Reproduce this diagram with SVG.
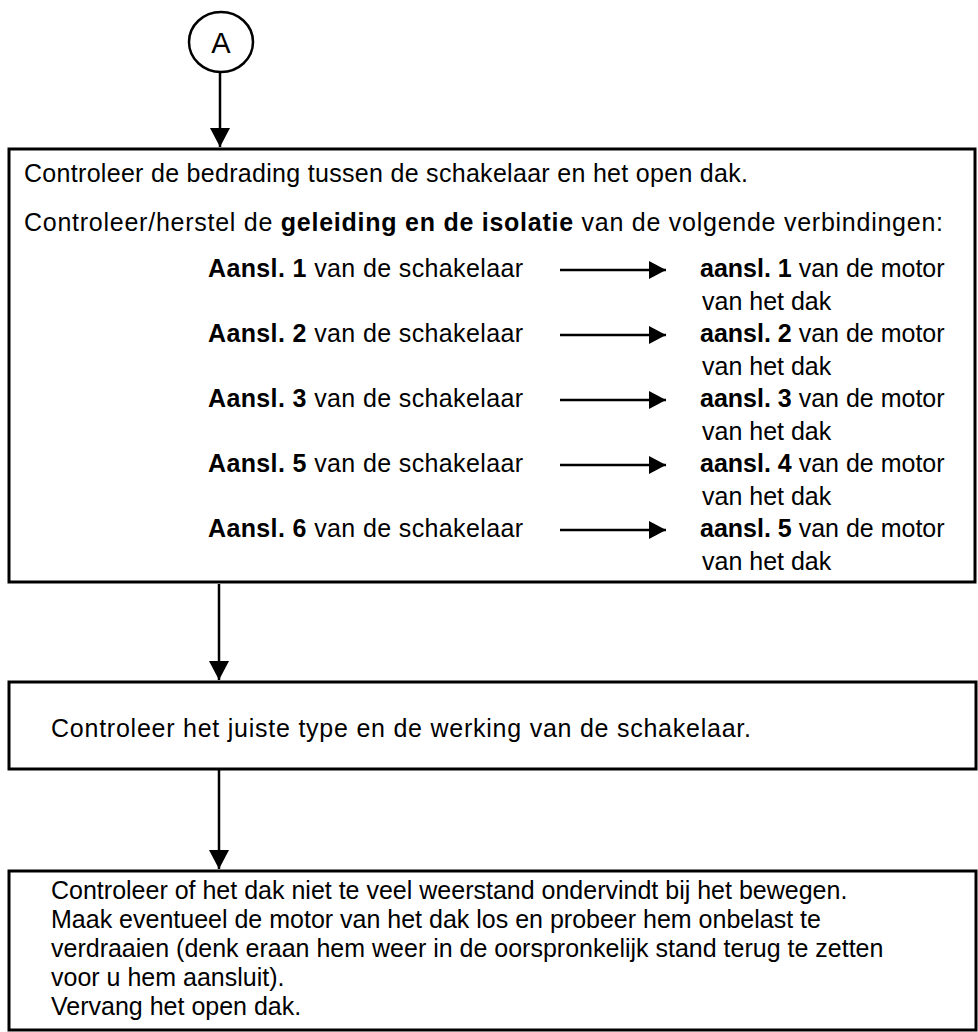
<svg xmlns="http://www.w3.org/2000/svg" width="978" height="1032" viewBox="0 0 978 1032">
<style>
text{font-family:"Liberation Sans",Arial,sans-serif;font-size:25px;fill:#000}
.b{font-weight:bold}
.box{fill:#fff;stroke:#000;stroke-width:3}
.ln{stroke:#000;stroke-width:2.5;fill:none}
</style>
<defs>
<marker id="ah" markerWidth="20" markerHeight="20" viewBox="0 0 20 20" refX="19" refY="10" orient="auto" markerUnits="userSpaceOnUse">
<path d="M0,0 L19,10 L0,20 Z" fill="#000"/>
</marker>
<marker id="ah2" markerWidth="18" markerHeight="18" viewBox="0 0 18 18" refX="17" refY="9" orient="auto" markerUnits="userSpaceOnUse">
<path d="M0,0 L17,9 L0,18 Z" fill="#000"/>
</marker>
</defs>
<rect width="978" height="1032" fill="#fff"/>
<g id="connectors">
<line class="ln" x1="220" y1="72" x2="220" y2="147" marker-end="url(#ah)"/>
<line class="ln" x1="219" y1="584" x2="219" y2="680" marker-end="url(#ah)"/>
<line class="ln" x1="219" y1="770" x2="219" y2="869" marker-end="url(#ah)"/>
</g>
<g id="nodeA">
<ellipse cx="221" cy="42" rx="32" ry="30" fill="#fff" stroke="#000" stroke-width="2.5"/>
<text x="221" y="53" text-anchor="middle" style="font-size:29px">A</text>
</g>
<g id="box1">
<rect class="box" x="9" y="149" width="966" height="433"/>
<text x="24" y="182" textLength="724" lengthAdjust="spacing">Controleer de bedrading tussen de schakelaar en het open dak.</text>
<text x="24" y="231" textLength="919" lengthAdjust="spacing">Controleer/herstel de <tspan class="b">geleiding en de isolatie</tspan> van de volgende verbindingen:</text>
<g id="rows">
<text x="208" y="277" textLength="315" lengthAdjust="spacing"><tspan class="b">Aansl. 1</tspan> van de schakelaar</text>
<text x="700" y="277"><tspan class="b">aansl. 1</tspan> van de motor</text>
<text x="702" y="310">van het dak</text>
<text x="208" y="342" textLength="315" lengthAdjust="spacing"><tspan class="b">Aansl. 2</tspan> van de schakelaar</text>
<text x="700" y="342"><tspan class="b">aansl. 2</tspan> van de motor</text>
<text x="702" y="375">van het dak</text>
<text x="208" y="407" textLength="315" lengthAdjust="spacing"><tspan class="b">Aansl. 3</tspan> van de schakelaar</text>
<text x="700" y="407"><tspan class="b">aansl. 3</tspan> van de motor</text>
<text x="702" y="440">van het dak</text>
<text x="208" y="472" textLength="315" lengthAdjust="spacing"><tspan class="b">Aansl. 5</tspan> van de schakelaar</text>
<text x="700" y="472"><tspan class="b">aansl. 4</tspan> van de motor</text>
<text x="702" y="505">van het dak</text>
<text x="208" y="537" textLength="315" lengthAdjust="spacing"><tspan class="b">Aansl. 6</tspan> van de schakelaar</text>
<text x="700" y="537"><tspan class="b">aansl. 5</tspan> van de motor</text>
<text x="702" y="570">van het dak</text>
</g>
<g id="rowarrows">
<line class="ln" x1="560" y1="270" x2="666" y2="270" marker-end="url(#ah2)"/>
<line class="ln" x1="560" y1="335" x2="666" y2="335" marker-end="url(#ah2)"/>
<line class="ln" x1="560" y1="400" x2="666" y2="400" marker-end="url(#ah2)"/>
<line class="ln" x1="560" y1="465" x2="666" y2="465" marker-end="url(#ah2)"/>
<line class="ln" x1="560" y1="530" x2="666" y2="530" marker-end="url(#ah2)"/>
</g>
</g>
<g id="box2">
<rect class="box" x="9" y="682" width="967" height="87"/>
<text x="51" y="737" textLength="700" lengthAdjust="spacing">Controleer het juiste type en de werking van de schakelaar.</text>
</g>
<g id="box3">
<rect class="box" x="9" y="871" width="967" height="159"/>
<text x="51" y="899">Controleer of het dak niet te veel weerstand ondervindt bij het bewegen.</text>
<text x="51" y="928">Maak eventueel de motor van het dak los en probeer hem onbelast te</text>
<text x="51" y="957">verdraaien (denk eraan hem weer in de oorspronkelijk stand terug te zetten</text>
<text x="51" y="986">voor u hem aansluit).</text>
<text x="51" y="1015">Vervang het open dak.</text>
</g>
</svg>
